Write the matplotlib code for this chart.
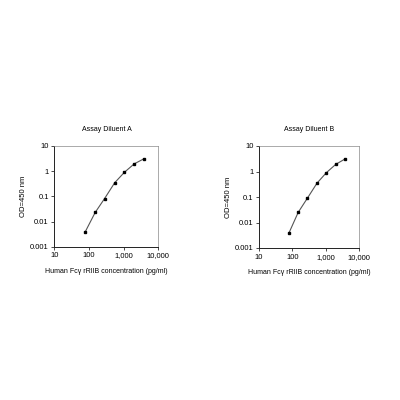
import matplotlib.pyplot as plt
from matplotlib.ticker import FixedLocator, NullLocator

# Concentration (pg/ml) and OD readings
conc_a = [78, 150, 280, 550, 1050, 2000, 3800]
od_a = [0.004, 0.023, 0.082, 0.35, 0.91, 1.95, 3.1]

conc_b = [80, 150, 280, 550, 1050, 2000, 3800]
od_b = [0.004, 0.025, 0.088, 0.35, 0.9, 1.9, 3.1]

titles = ["Assay Diluent A", "Assay Diluent B"]
xticks = [10, 100, 1000, 10000]
xticklabels = ["10", "100", "1,000", "10,000"]
yticks = [0.001, 0.01, 0.1, 1, 10]
yticklabels = ["0.001", "0.01", "0.1", "1", "10"]

plt.rcParams['font.family'] = ['Liberation Sans', 'DejaVu Sans']

fig = plt.figure(figsize=(4, 4), dpi=100)
fig.patch.set_facecolor('white')

rects = [[0.136, 0.383, 0.26, 0.252], [0.6475, 0.38, 0.25, 0.255]]
series = [(conc_a, od_a), (conc_b, od_b)]

for rect, (x, y), title in zip(rects, series, titles):
    ax = fig.add_axes(rect)
    ax.plot(x, y, color='#555555', lw=0.8, marker='s', ms=2,
            mfc='black', mec='black')
    ax.set_xscale('log')
    ax.set_yscale('log')
    ax.set_xlim(10, 10000)
    ax.set_ylim(0.001, 10)
    ax.xaxis.set_major_locator(FixedLocator(xticks))
    ax.xaxis.set_minor_locator(NullLocator())
    ax.yaxis.set_major_locator(FixedLocator(yticks))
    ax.yaxis.set_minor_locator(NullLocator())
    ax.set_xticklabels(xticklabels)
    ax.set_yticklabels(yticklabels)
    ax.tick_params(labelsize=5.5, length=2, width=0.5, pad=2)
    for side in ['left', 'bottom']:
        ax.spines[side].set_linewidth(0.7)
        ax.spines[side].set_color('#222222')
    for side in ['top', 'right']:
        ax.spines[side].set_linewidth(0.5)
        ax.spines[side].set_color('#888888')
    ax.set_title(title, fontsize=5, pad=11)
    ax.set_xlabel("Human Fc\u03b3 rRIIB concentration (pg/ml)", fontsize=5,
                  labelpad=6)
    ax.set_ylabel("OD=450 nm", fontsize=5.5, labelpad=2)

fig.savefig("out.png", dpi=100, facecolor='white')
